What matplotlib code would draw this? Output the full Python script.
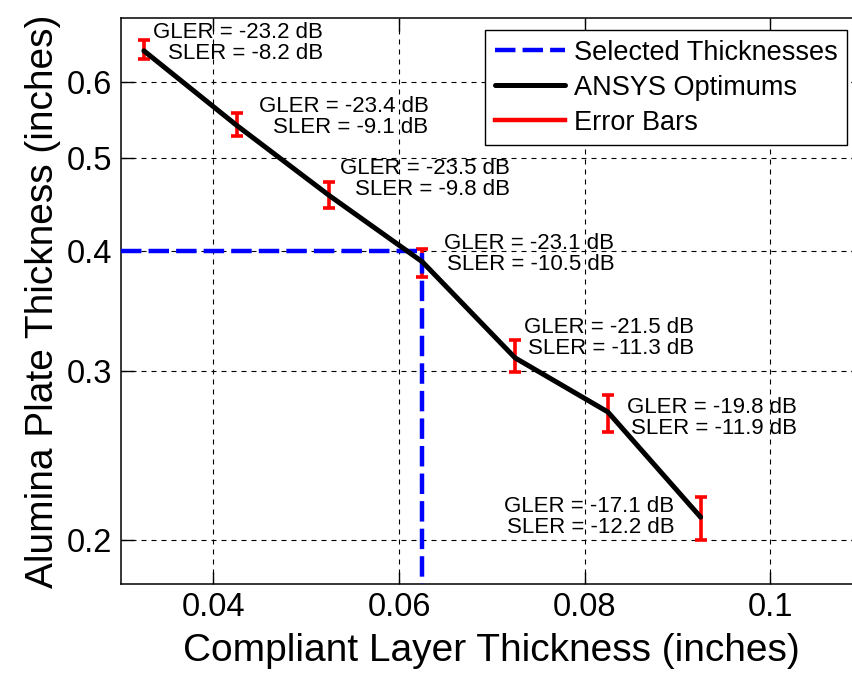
import matplotlib
matplotlib.use("Agg")
import matplotlib.pyplot as plt
from matplotlib.ticker import FixedLocator, NullLocator, FuncFormatter, NullFormatter
from matplotlib.lines import Line2D

plt.rcParams['font.family'] = ['Liberation Sans', 'DejaVu Sans']

# Data
compliant = [0.0325, 0.0425, 0.0525, 0.0625, 0.0725, 0.0825, 0.0925]
alumina = [0.647, 0.541, 0.457, 0.390, 0.3097, 0.272, 0.2113]
err_low = [0.635, 0.527, 0.444, 0.376, 0.2995, 0.2594, 0.200]
err_high = [0.6645, 0.557, 0.472, 0.402, 0.323, 0.2835, 0.2217]
gler = [-23.2, -23.4, -23.5, -23.1, -21.5, -19.8, -17.1]
sler = [-8.2, -9.1, -9.8, -10.5, -11.3, -11.9, -12.2]
selected_x = 0.0625
selected_y = 0.4
xticks = [0.04, 0.06, 0.08, 0.1]
yticks = [0.2, 0.3, 0.4, 0.5, 0.6]
xlim = (0.03, 0.11)
ylim = (0.18, 0.70)

# annotation offsets (pixels) and alignment
label_offsets = [(9, 8), (22, 8), (11, 17), (22, 8), (9, 20), (19, -6), (-26, 0)]
label_ha = ['left'] * 6 + ['right']

W, H = 852, 673
fig = plt.figure(figsize=(W / 100, H / 100), dpi=100)
ax = fig.add_axes([120.7 / W, 89 / H, (863 - 120.7) / W, (584 - 18) / H])
ax.set_yscale('log')
ax.set_xlim(*xlim)
ax.set_ylim(*ylim)

yerr = [[a - l for a, l in zip(alumina, err_low)], [h - a for a, h in zip(alumina, err_high)]]
ax.errorbar(compliant, alumina, yerr=yerr, fmt='none', ecolor='red',
            elinewidth=2.6, capsize=4.5, capthick=2.6, zorder=3)
blue, = ax.plot([xlim[0], selected_x, selected_x], [selected_y, selected_y, ylim[0]],
                color='blue', lw=3.2, dashes=(4.6, 1.6), zorder=4, solid_capstyle='butt')
black, = ax.plot(compliant, alumina, color='black', lw=3.6, zorder=5, solid_capstyle='round')

for x, y, g, s, off, ha in zip(compliant, alumina, gler, sler, label_offsets, label_ha):
    ax.annotate(f"GLER = {g} dB\nSLER = {s} dB", xy=(x, y), xytext=off,
                textcoords='offset pixels', ha=ha, va='center', multialignment='right',
                fontsize=16, linespacing=1.0, color='black', zorder=6)

ax.xaxis.set_major_locator(FixedLocator(xticks))
ax.yaxis.set_major_locator(FixedLocator(yticks))
ax.yaxis.set_minor_locator(NullLocator())
ax.yaxis.set_minor_formatter(NullFormatter())
ax.xaxis.set_major_formatter(FuncFormatter(lambda v, p: f"{v:g}"))
ax.yaxis.set_major_formatter(FuncFormatter(lambda v, p: f"{v:g}"))
ax.tick_params(axis='both', which='major', direction='in', length=9, width=1,
               labelsize=23.5, top=True, right=True, pad=6)
ax.grid(True, which='major', color='black', lw=0.8, ls=(0, (4.5, 4.5)))
for sp in ax.spines.values():
    sp.set_linewidth(1.1)

ax.set_xlabel('Compliant Layer Thickness (inches)', fontsize=28, labelpad=7)
ax.set_ylabel('Alumina Plate Thickness (inches)', fontsize=28, labelpad=4)

red_handle = Line2D([], [], color='red', lw=3.2)
leg = ax.legend([blue, black, red_handle], ['Selected Thicknesses', 'ANSYS Optimums', 'Error Bars'],
                loc='upper right', bbox_to_anchor=(847 / W, 1 - 30 / H),
                bbox_transform=fig.transFigure, fontsize=19.5, frameon=True, fancybox=False,
                edgecolor='black', framealpha=1, handlelength=2.6, handletextpad=0.3,
                labelspacing=0.33, borderpad=0.36, borderaxespad=0)
leg.get_frame().set_linewidth(1.0)
leg.set_zorder(10)

fig.savefig('out.png', dpi=100)
